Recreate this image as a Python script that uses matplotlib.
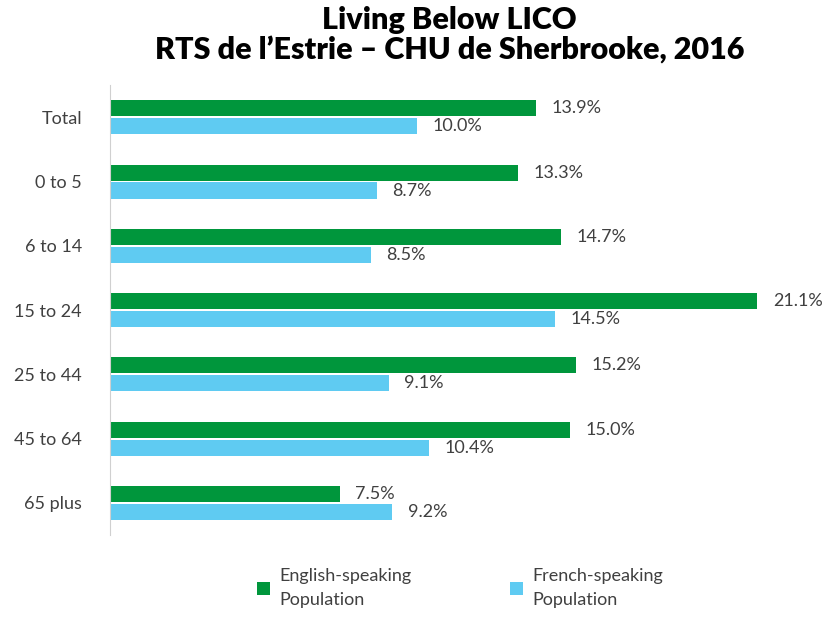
import numpy as np
import matplotlib.pyplot as plt

categories = ['Total', '0 to 5', '6 to 14', '15 to 24', '25 to 44', '45 to 64', '65 plus']
english = [13.9, 13.3, 14.7, 21.1, 15.2, 15.0, 7.5]
french = [10.0, 8.7, 8.5, 14.5, 9.1, 10.4, 9.2]

plt.rcParams['font.family'] = ['Lato', 'DejaVu Sans']
grey = '#404040'

fig = plt.figure(figsize=(8.32, 6.17), dpi=100)
ax = fig.add_axes([0.132, 0.133, 0.83, 0.729])

y = np.arange(len(categories))
h = 0.25
ax.barh(y - 0.14, english, height=h, color='#00963C', label='English-speaking\nPopulation')
ax.barh(y + 0.14, french, height=h, color='#5FCBF2', label='French-speaking\nPopulation')

for i in range(len(categories)):
    ax.text(english[i] + 0.5, y[i] - 0.14, f'{english[i]:.1f}%', va='center', ha='left',
            fontsize=13, color=grey)
    ax.text(french[i] + 0.5, y[i] + 0.14, f'{french[i]:.1f}%', va='center', ha='left',
            fontsize=13, color=grey)

ax.set_ylim(6.5, -0.5)
ax.set_xlim(0, 22.5)
ax.set_yticks(y)
ax.set_yticklabels(categories, fontsize=13, color=grey)
ax.set_xticks([])
ax.tick_params(axis='y', length=0, pad=20)
for s in ['top', 'right', 'bottom']:
    ax.spines[s].set_visible(False)
ax.spines['left'].set_color('#D0D0D0')

fig.suptitle('Living Below LICO\nRTS de l\u2019Estrie \u2013 CHU de Sherbrooke, 2016',
             fontsize=22, fontweight='heavy', x=0.54, y=0.99, linespacing=1.1)

leg = fig.legend(loc='lower center', bbox_to_anchor=(0.553, -0.012), ncol=2, frameon=False,
                 fontsize=13, labelcolor=grey, handlelength=0.7, handleheight=0.7,
                 columnspacing=5.5, handletextpad=0.5)
for t in leg.get_texts():
    t.set_linespacing(1.6)

fig.savefig('out.png', dpi=100)
